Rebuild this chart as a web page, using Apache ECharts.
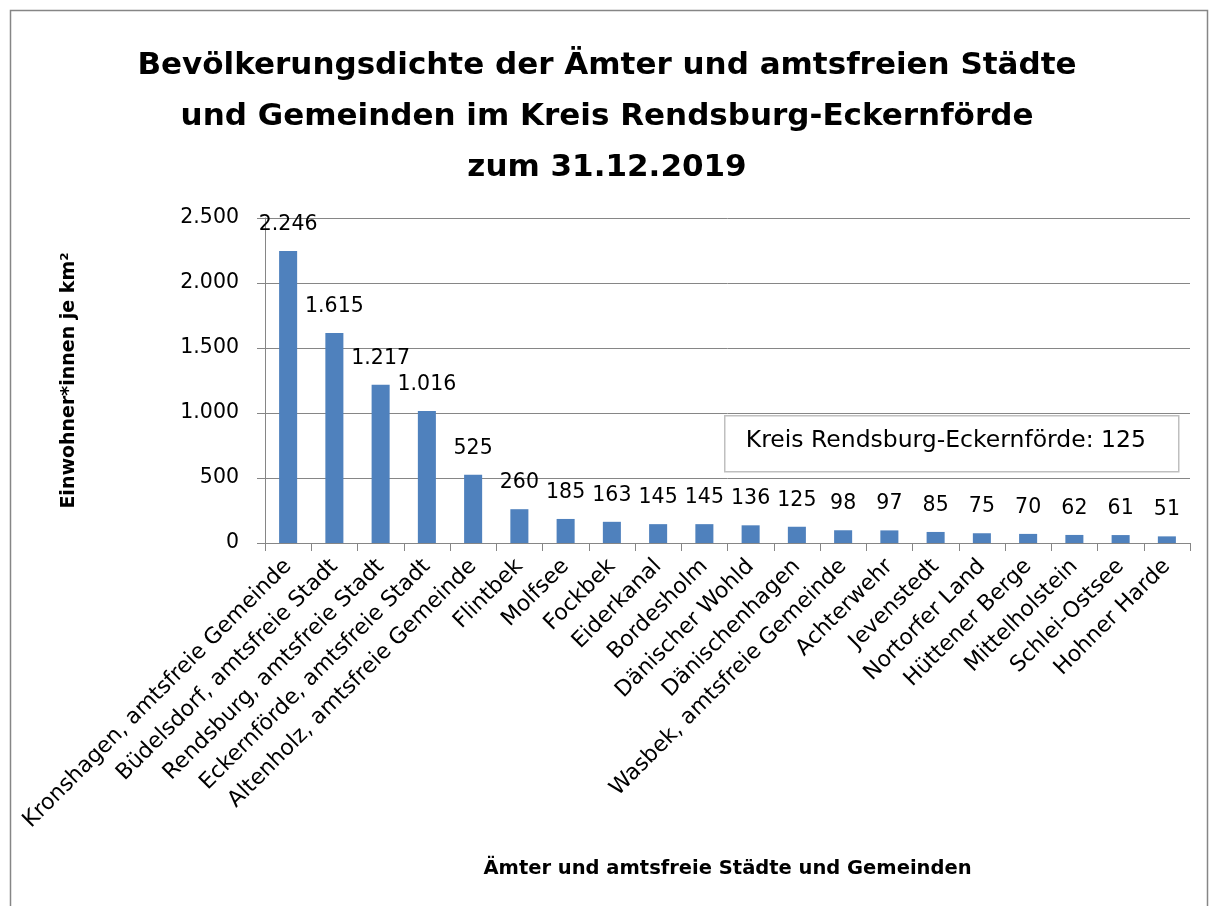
<!DOCTYPE html>
<html><head><meta charset="utf-8">
<script src="https://cdn.jsdelivr.net/npm/echarts@6/dist/echarts.min.js"></script>
<style>html,body{margin:0;padding:0;background:#fff}#c{width:1214px;height:906px}</style>
</head><body><div id="c"></div>
<script>
const categories = ["Kronshagen, amtsfreie Gemeinde","Büdelsdorf, amtsfreie Stadt","Rendsburg, amtsfreie Stadt","Eckernförde, amtsfreie Stadt","Altenholz, amtsfreie Gemeinde","Flintbek","Molfsee","Fockbek","Eiderkanal","Bordesholm","Dänischer Wohld","Dänischenhagen","Wasbek, amtsfreie Gemeinde","Achterwehr","Jevenstedt","Nortorfer Land","Hüttener Berge","Mittelholstein","Schlei-Ostsee","Hohner Harde"];
const values = [2246,1615,1217,1016,525,260,185,163,145,145,136,125,98,97,85,75,70,62,61,51];
const yTicks = [0,500,1000,1500,2000,2500];
const titleText = "Bevölkerungsdichte der Ämter und amtsfreien Städte\nund Gemeinden im Kreis Rendsburg-Eckernförde\nzum 31.12.2019";
const kreisText = "Kreis Rendsburg-Eckernförde: 125";
const fmt = v => String(v).replace(/\B(?=(\d{3})+(?!\d))/g, ".");
const FONT = "'DejaVu Sans', sans-serif";
const chart = echarts.init(document.getElementById('c'), null, {renderer:'canvas'});
chart.setOption({
  backgroundColor:'#fff',
  animation:false,
  textStyle:{fontFamily:FONT},
  title:{text:titleText,left:'center',top:35,textStyle:{fontFamily:FONT,fontSize:31,fontWeight:'bold',color:'#000',lineHeight:51}},
  grid:{left:265,right:24,top:218,bottom:363,containLabel:false},
  xAxis:{type:'category',data:categories,
    name:'Ämter und amtsfreie Städte und Gemeinden',nameLocation:'middle',nameGap:316,
    nameTextStyle:{fontFamily:FONT,fontSize:19.5,fontWeight:'bold',color:'#000'},
    axisLine:{lineStyle:{color:'#868686',width:1}},
    axisTick:{show:true,length:8,lineStyle:{color:'#868686'}},
    axisLabel:{rotate:45,fontSize:22,color:'#000',margin:20,interval:0,fontFamily:FONT}},
  yAxis:{type:'value',min:0,max:2500,interval:500,
    name:'Einwohner*innen je km²',nameLocation:'middle',nameGap:186,nameRotate:90,
    nameTextStyle:{fontFamily:FONT,fontSize:19,fontWeight:'bold',color:'#000'},
    axisLine:{show:true,lineStyle:{color:'#868686'}},
    axisTick:{show:true,length:8,lineStyle:{color:'#868686'}},
    splitLine:{lineStyle:{color:'#868686',width:1}},
    axisLabel:{fontSize:20.5,color:'#000',margin:26,fontFamily:FONT,formatter:v=>fmt(v)}},
  series:[{type:'bar',data:values,barWidth:'39%',
    itemStyle:{color:'#4f81bd'},
    label:{show:true,position:'top',distance:16,fontSize:20.5,color:'#000',fontFamily:FONT,formatter:p=>fmt(p.value)}}],
  graphic:[
    {type:'rect',left:8,top:8,shape:{width:1197,height:940},style:{fill:'none',stroke:'#868686',lineWidth:1.5},silent:true},
    {type:'group',left:724,top:415,children:[
      {type:'rect',shape:{width:454,height:56},style:{fill:'#fff',stroke:'#bfbfbf',lineWidth:1.5}},
      {type:'text',left:21,top:13,style:{text:kreisText,fontSize:23.5,fontFamily:FONT,fill:'#000'}}
    ]}
  ]
});
</script></body></html>
